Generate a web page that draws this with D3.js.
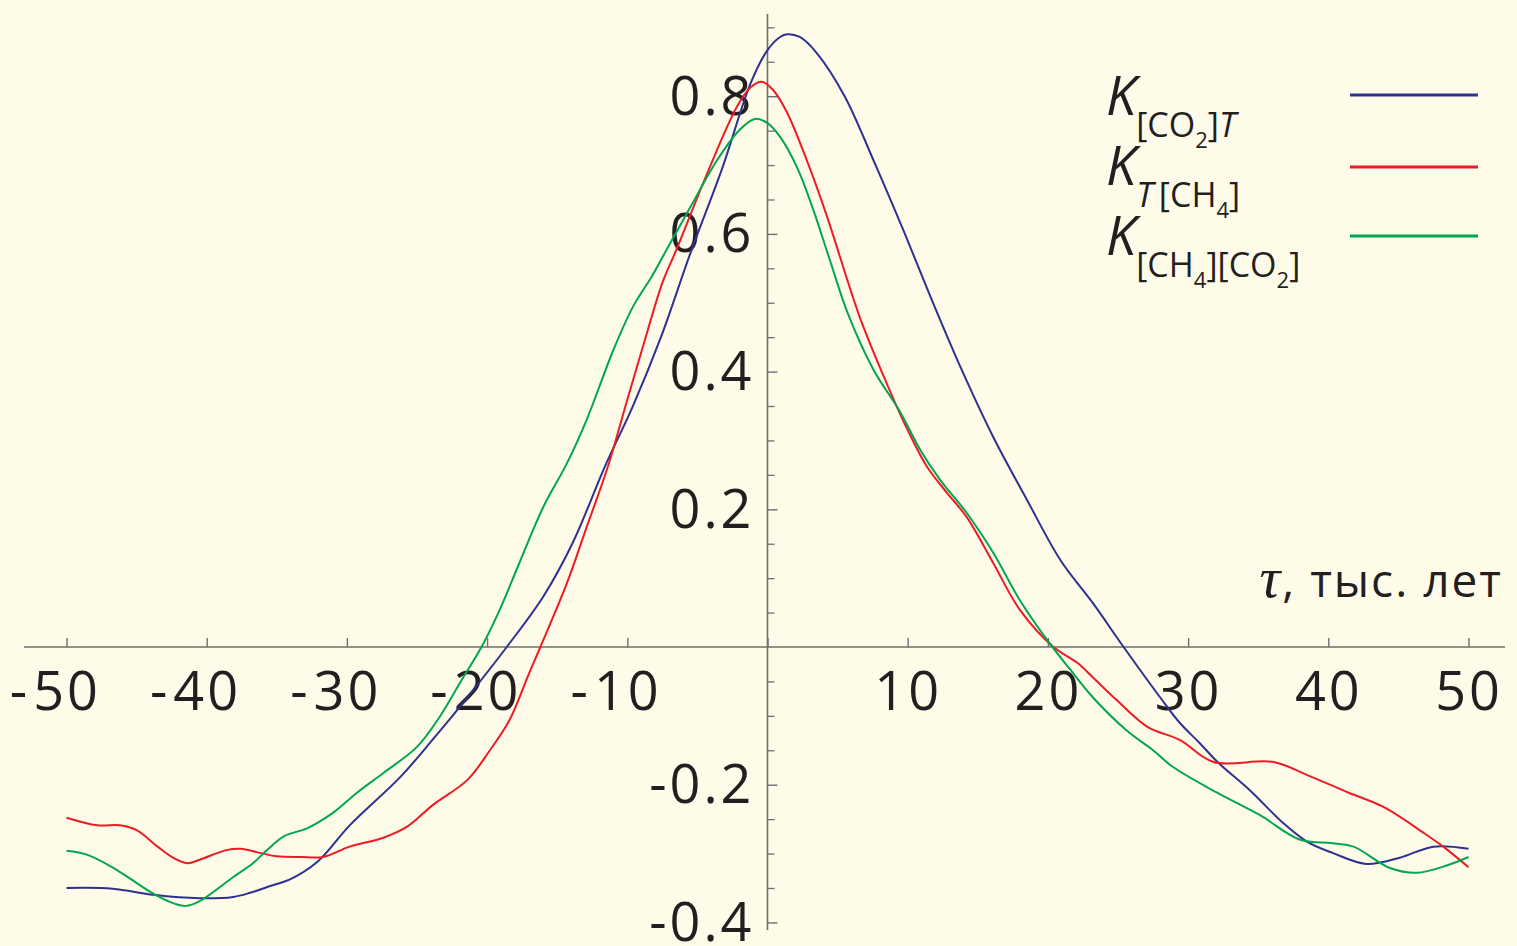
<!DOCTYPE html>
<html>
<head>
<meta charset="utf-8">
<script src="https://cdn.jsdelivr.net/npm/d3@7"></script>
<style>
  html, body { margin: 0; padding: 0; background: #fefce9; }
  svg { display: block; }
  text { font-family: "Open Sans", "Noto Sans", sans-serif; fill: #231f20; }
</style>
</head>
<body>
<svg id="chart" width="1517" height="946"></svg>
<script>
// Lag (thousand years) tick values and correlation tick values
const xTickValues = [-50, -40, -30, -20, -10, 0, 10, 20, 30, 40, 50];
const yMajorTicks = [-0.4, -0.2, 0.2, 0.4, 0.6, 0.8];
const yMinorTicks = [-0.35, -0.3, -0.25, -0.15, -0.1, -0.05, 0.05, 0.1, 0.15,
                     0.25, 0.3, 0.35, 0.45, 0.5, 0.55, 0.65, 0.7, 0.75, 0.85, 0.9];

// Cross-correlation functions: [tau, K]
const kCO2T = [
  [-50, -0.350], [-46.7, -0.351], [-43.8, -0.360], [-40.5, -0.365], [-38.1, -0.363],
  [-36.9, -0.357], [-35.3, -0.346], [-34.1, -0.338], [-32.1, -0.312], [-29.8, -0.259],
  [-26.2, -0.189], [-23.9, -0.135], [-21.4, -0.073], [-18.6, 0], [-16.0, 0.073],
  [-13.9, 0.151], [-11.6, 0.262], [-9.6, 0.350], [-7.6, 0.450], [-5.5, 0.572],
  [-3.2, 0.697], [-1.2, 0.819], [0, 0.867], [0.9, 0.886], [1.4, 0.890], [2.3, 0.886],
  [3.5, 0.863], [5.5, 0.800], [7.6, 0.705], [9.8, 0.600], [11.6, 0.510], [13.8, 0.405],
  [16.1, 0.305], [18.5, 0.214], [20.9, 0.126], [23.2, 0.064], [25.4, 0], [28.0, -0.073],
  [29.4, -0.110], [30.8, -0.139], [32.1, -0.167], [34.4, -0.208], [36.8, -0.256],
  [38.5, -0.283], [40.3, -0.299], [42.7, -0.315], [45.1, -0.306], [47.5, -0.290], [50, -0.293]
];
const kTCH4 = [
  [-50, -0.248], [-47.8, -0.259], [-46.2, -0.259], [-45.0, -0.266], [-43.5, -0.290],
  [-42.4, -0.306], [-41.4, -0.314], [-40.5, -0.309], [-38.6, -0.295], [-37.6, -0.293],
  [-36.2, -0.299], [-35.0, -0.304], [-33.3, -0.305], [-31.7, -0.305], [-29.8, -0.290],
  [-27.4, -0.277], [-25.7, -0.261], [-23.9, -0.230], [-21.4, -0.193], [-19.8, -0.150],
  [-18.4, -0.106], [-17.0, -0.038], [-16.2, 0], [-14.3, 0.093], [-12.9, 0.174],
  [-11.4, 0.261], [-10.0, 0.359], [-8.6, 0.456], [-7.5, 0.529], [-6.5, 0.577],
  [-4.3, 0.688], [-2.2, 0.784], [-1.2, 0.813], [-0.4, 0.821], [0.4, 0.809], [1.4, 0.776],
  [2.8, 0.707], [4.2, 0.628], [6.6, 0.478], [8.5, 0.383], [10.0, 0.315], [11.4, 0.261],
  [12.8, 0.224], [14.2, 0.189], [16.1, 0.122], [18.0, 0.054], [20.4, 0], [22.1, -0.023],
  [23.2, -0.044], [24.9, -0.077], [27.1, -0.116], [29.4, -0.135], [31.8, -0.167],
  [36.1, -0.167], [38.5, -0.186], [41.5, -0.212], [43.9, -0.232], [46.8, -0.270],
  [48.2, -0.290], [50, -0.320]
];
const kCH4CO2 = [
  [-50, -0.296], [-48.5, -0.302], [-46.4, -0.324], [-44.0, -0.356], [-42.4, -0.372],
  [-41.5, -0.376], [-40.5, -0.369], [-38.1, -0.334], [-36.7, -0.314], [-35.7, -0.295],
  [-34.5, -0.275], [-32.8, -0.263], [-31.0, -0.241], [-29.3, -0.212], [-27.4, -0.183],
  [-25.0, -0.145], [-23.4, -0.102], [-21.7, -0.044], [-20.4, 0], [-19.1, 0.054],
  [-17.7, 0.122], [-16.0, 0.203], [-14.3, 0.267], [-12.9, 0.330], [-11.0, 0.431],
  [-9.6, 0.494], [-8.2, 0.540], [-7.2, 0.577], [-5.5, 0.639], [-3.6, 0.707], [-2.0, 0.751],
  [-0.9, 0.767], [0, 0.761], [0.9, 0.741], [2.1, 0.697], [3.2, 0.639], [4.4, 0.565],
  [5.7, 0.486], [7.5, 0.405], [9.5, 0.340], [10.9, 0.286], [12.3, 0.243], [14.2, 0.195],
  [16.1, 0.137], [18.0, 0.068], [20.1, 0.006], [21.6, -0.033], [23.2, -0.073],
  [25.6, -0.121], [27.5, -0.150], [28.9, -0.174], [32.1, -0.212], [35.1, -0.244],
  [38.0, -0.280], [40.3, -0.285], [41.8, -0.290], [44.4, -0.321], [46.3, -0.328],
  [48.5, -0.317], [50, -0.305]
];

const seriesData = [kCO2T, kTCH4, kCH4CO2];
const seriesColors = ["#2e3192", "#ed1c24", "#00a651"];

// Legend labels: K with nested subscripts, as [text, level, italic]
const legendParts = [
  [["K", 0, true], ["[CO", 1, false], ["2", 2, false], ["]", 1, false], ["T", 1, true]],
  [["K", 0, true], ["T", 1, true], ["\u2009[CH", 1, false], ["4", 2, false], ["]", 1, false]],
  [["K", 0, true], ["[CH", 1, false], ["4", 2, false], ["][CO", 1, false], ["2", 2, false], ["]", 1, false]]
];
const axisTitle = ", тыс. лет";
const axisSymbol = "τ";

const svg = d3.select("#chart");
const axisColor = "#6d6e71";

const x = d3.scaleLinear().domain([-50, 50]).range([66.5, 1468.5]);
const y = d3.scaleLinear().domain([-0.4, 0.8]).range([922.4, 96.2]);

// Plain axis lines crossing at the origin
svg.append("line")
  .attr("x1", 24).attr("x2", 1505)
  .attr("y1", y(0)).attr("y2", y(0))
  .attr("stroke", axisColor).attr("stroke-width", 1.6);
svg.append("line")
  .attr("x1", x(0)).attr("x2", x(0))
  .attr("y1", 14).attr("y2", 930)
  .attr("stroke", axisColor).attr("stroke-width", 1.6);

// Horizontal axis ticks and labels
const xAxis = svg.append("g")
  .attr("transform", `translate(0,${y(0)})`)
  .call(d3.axisBottom(x).tickValues(xTickValues).tickSize(-9).tickPadding(25)
    .tickFormat(d => d === 0 ? "" : String(Math.abs(d))));
xAxis.select(".domain").remove();
xAxis.selectAll(".tick line").attr("stroke", axisColor).attr("stroke-width", 1.4);
xAxis.selectAll(".tick text")
  .attr("font-size", 54).attr("fill", "#231f20")
  .style("font-family", '"Open Sans", sans-serif')
  .style("letter-spacing", "3px");
// Negative labels: the digits stay centred on the tick, the minus hangs to the left
xAxis.selectAll(".tick").each(function (d) {
  if (d >= 0) return;
  const t = d3.select(this).select("text");
  const w = t.node().getComputedTextLength();
  d3.select(this).append("text")
    .attr("x", -w / 2 - 6).attr("y", t.attr("y")).attr("dy", t.attr("dy"))
    .attr("text-anchor", "end").attr("font-size", 54).attr("fill", "#231f20")
    .style("font-family", '"Open Sans", sans-serif')
    .text("-");
});

// Vertical axis: minor and major ticks on the right, labels on the left
const yMinor = svg.append("g")
  .attr("transform", `translate(${x(0)},0)`)
  .call(d3.axisRight(y).tickValues(yMinorTicks).tickSize(7).tickFormat(""));
yMinor.select(".domain").remove();
yMinor.selectAll(".tick line").attr("stroke", axisColor).attr("stroke-width", 1.3);

const yMajor = svg.append("g")
  .attr("transform", `translate(${x(0)},0)`)
  .call(d3.axisLeft(y).tickValues(yMajorTicks).tickSize(-10).tickPadding(13)
    .tickFormat(d => d < 0 ? "-" + d3.format(".1f")(-d) : d3.format(".1f")(d)));
yMajor.select(".domain").remove();
yMajor.selectAll(".tick line").attr("stroke", axisColor).attr("stroke-width", 1.4);
yMajor.selectAll(".tick text")
  .attr("font-size", 54).attr("fill", "#231f20").attr("dy", "0.33em")
  .style("font-family", '"Open Sans", sans-serif')
  .style("letter-spacing", "3px");

// Curves
const line = d3.line()
  .x(d => x(d[0]))
  .y(d => y(d[1]))
  .curve(d3.curveCatmullRom.alpha(0.5));

svg.append("g").selectAll("path")
  .data(seriesData)
  .join("path")
  .attr("d", line)
  .attr("fill", "none")
  .attr("stroke", (d, i) => seriesColors[i])
  .attr("stroke-width", 2)
  .attr("stroke-linejoin", "round");

// Axis title
const title = svg.append("text")
  .attr("x", 1503).attr("y", 597)
  .attr("text-anchor", "end")
  .attr("font-size", 46)
  .style("letter-spacing", "2px");
title.append("tspan")
  .style("font-family", '"Liberation Serif", serif')
  .attr("font-style", "italic")
  .attr("font-size", 58)
  .text(axisSymbol);
title.append("tspan").text(axisTitle);

// Legend
const legendBaselines = [115, 185, 255];
const legendLineY = [95, 167, 236];
const sizes = [54, 34, 22];
const offsets = [0, 22, 33];
legendParts.forEach((parts, i) => {
  const t = svg.append("text")
    .attr("x", 1106).attr("y", legendBaselines[i]);
  let level = 0;
  parts.forEach(([s, lv, it]) => {
    t.append("tspan")
      .attr("dy", offsets[lv] - offsets[level])
      .attr("font-size", sizes[lv])
      .attr("font-style", it ? "italic" : "normal")
      .text(s);
    level = lv;
  });
  svg.append("line")
    .attr("x1", 1350).attr("x2", 1478)
    .attr("y1", legendLineY[i]).attr("y2", legendLineY[i])
    .attr("stroke", seriesColors[i]).attr("stroke-width", 3);
});
</script>
</body>
</html>
